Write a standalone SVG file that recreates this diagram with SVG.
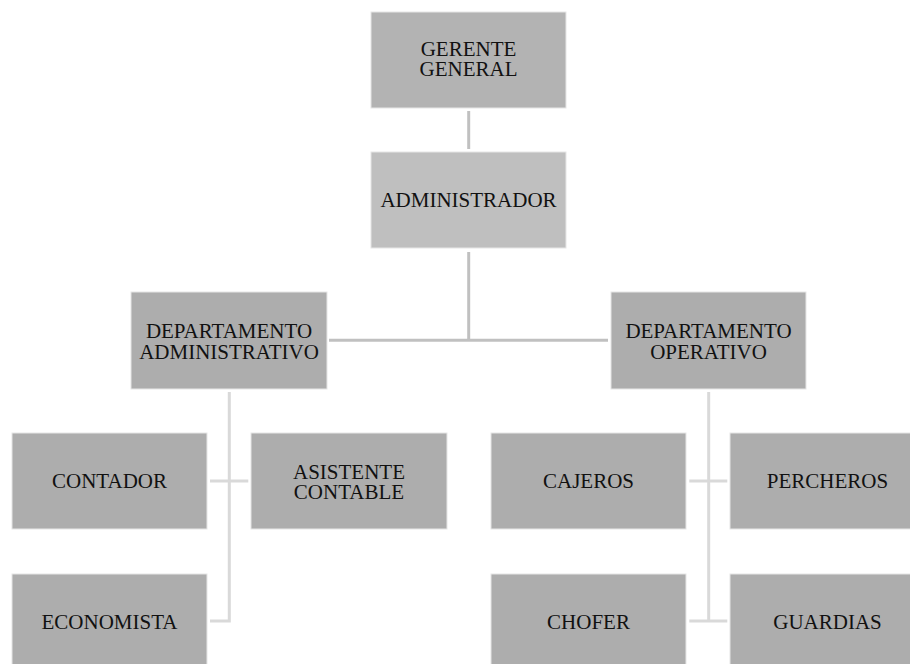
<svg xmlns="http://www.w3.org/2000/svg" width="910" height="664" viewBox="0 0 910 664">
<style>
.box{fill:#adadad;stroke:#e6e6e6;stroke-width:1}
.b1{fill:#b3b3b3}
.b2{fill:#bfbfbf}
.t{font-family:"Liberation Serif","Times New Roman",serif;font-size:21px;fill:#111;text-anchor:middle}
.c1{stroke:#c0c0c0;stroke-width:3;fill:none}
.c2{stroke:#d9d9d9;stroke-width:3;fill:none}
</style>
<rect width="910" height="664" fill="#fff"/>
<g id="connectors">
<line class="c1" x1="468.7" y1="111" x2="468.7" y2="149"/>
<line class="c1" x1="468.7" y1="252" x2="468.7" y2="340.3"/>
<line class="c1" x1="329" y1="340.3" x2="608" y2="340.3"/>
<polyline class="c2" points="210,621 229.3,621 229.3,392"/>
<line class="c2" x1="210" y1="481" x2="248.3" y2="481"/>
<line class="c2" x1="708.7" y1="392" x2="708.7" y2="621"/>
<line class="c2" x1="689.3" y1="481" x2="727.3" y2="481"/>
<line class="c2" x1="689.3" y1="621" x2="727.3" y2="621"/>
</g>
<g id="gerente">
<rect class="box b1" x="371" y="12" width="195" height="96"/>
<text class="t" x="468.5" y="55.7">GERENTE</text>
<text class="t" x="468.5" y="76">GENERAL</text>
</g>
<g id="administrador">
<rect class="box b2" x="371" y="152" width="195" height="96"/>
<text class="t" x="468.5" y="207.3">ADMINISTRADOR</text>
</g>
<g id="dep-admin">
<rect class="box" x="131" y="292" width="196" height="97"/>
<text class="t" x="229" y="337.7">DEPARTAMENTO</text>
<text class="t" x="229" y="359">ADMINISTRATIVO</text>
</g>
<g id="dep-oper">
<rect class="box" x="611" y="292" width="195" height="97"/>
<text class="t" x="708.5" y="337.7">DEPARTAMENTO</text>
<text class="t" x="708.5" y="359">OPERATIVO</text>
</g>
<g id="contador">
<rect class="box" x="12" y="433" width="195" height="96"/>
<text class="t" x="109.5" y="488.3">CONTADOR</text>
</g>
<g id="asistente">
<rect class="box" x="251" y="433" width="196" height="96"/>
<text class="t" x="349" y="479.3">ASISTENTE</text>
<text class="t" x="349" y="499.3">CONTABLE</text>
</g>
<g id="economista">
<rect class="box" x="12" y="574" width="195" height="96"/>
<text class="t" x="109.5" y="628.7">ECONOMISTA</text>
</g>
<g id="cajeros">
<rect class="box" x="491" y="433" width="195" height="96"/>
<text class="t" x="588.5" y="488.3">CAJEROS</text>
</g>
<g id="percheros">
<rect class="box" x="730" y="433" width="195" height="96"/>
<text class="t" x="827.5" y="488.3">PERCHEROS</text>
</g>
<g id="chofer">
<rect class="box" x="491" y="574" width="195" height="96"/>
<text class="t" x="588.5" y="628.7">CHOFER</text>
</g>
<g id="guardias">
<rect class="box" x="730" y="574" width="195" height="96"/>
<text class="t" x="827.5" y="628.7">GUARDIAS</text>
</g>
</svg>
